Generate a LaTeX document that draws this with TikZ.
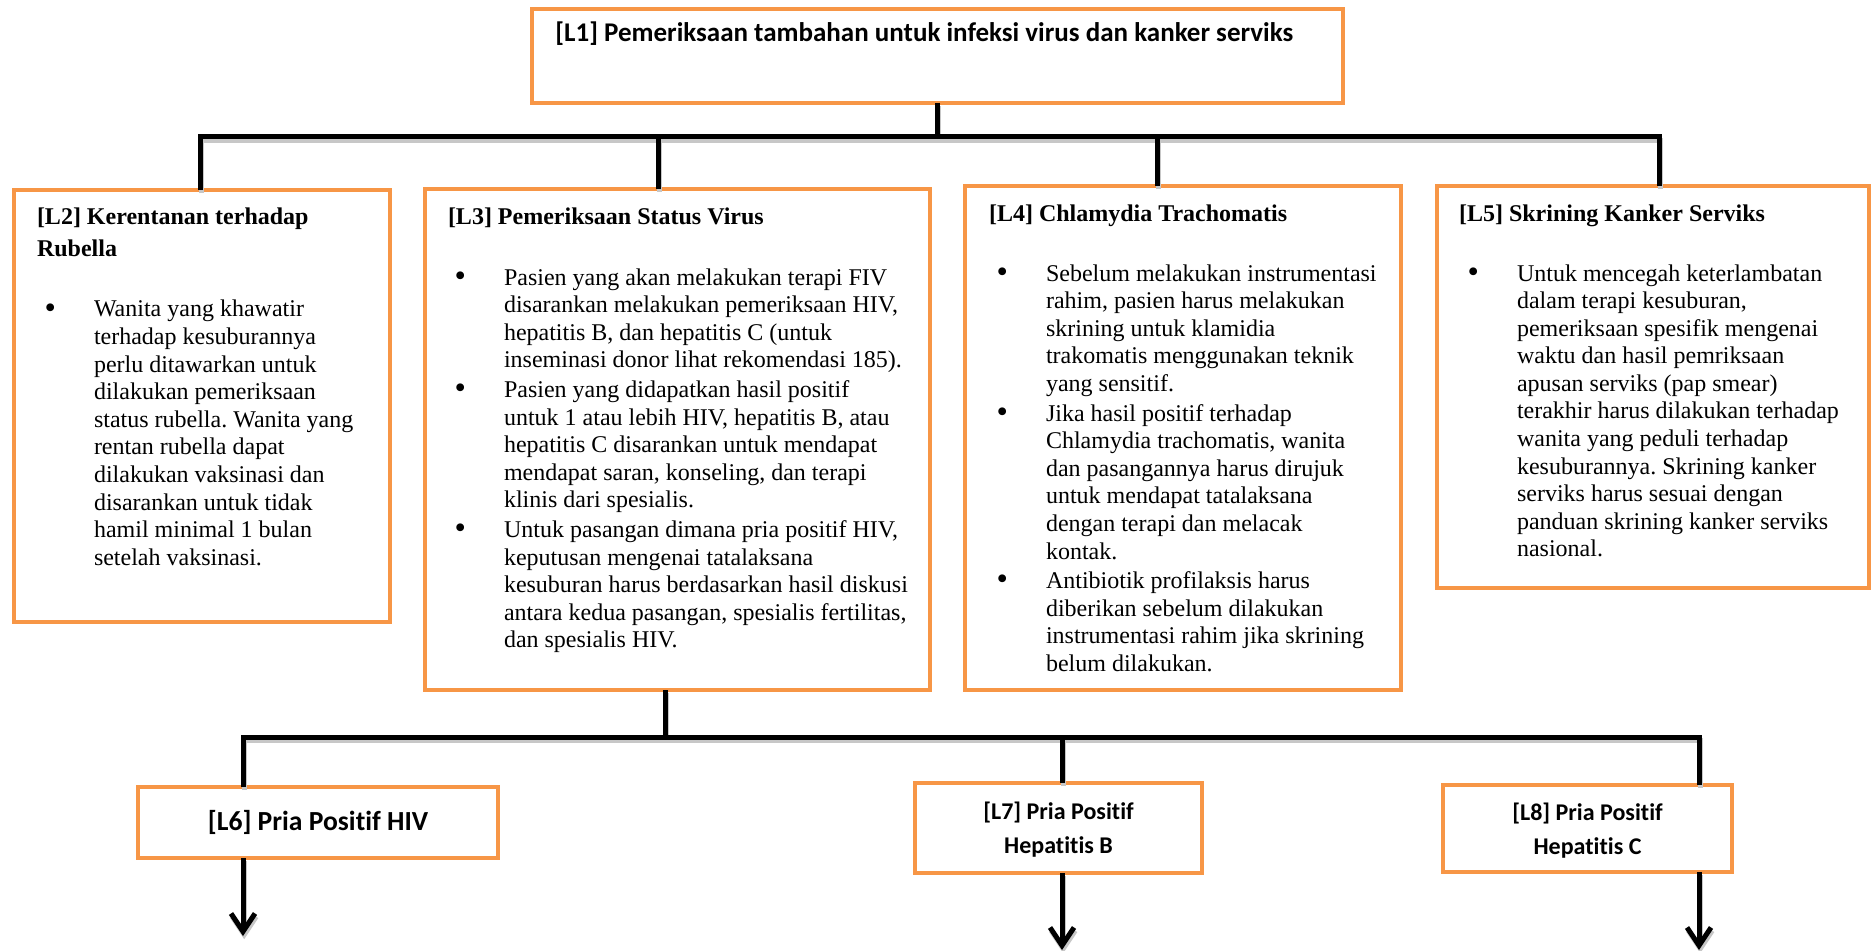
\documentclass[tikz,border=0pt]{standalone}
\usepackage{fontspec}
\setmainfont{Liberation Serif}
\newfontfamily\calibri[Ligatures=NoCommon]{Carlito}
\usetikzlibrary{arrows.meta}
\definecolor{boxorange}{HTML}{F79646}
\newcommand\bul{\llap{\raisebox{-0.6pt}{\scalebox{1.35}{\textbullet}}\hspace{19pt}}}
\frenchspacing
\begin{document}
\begin{tikzpicture}[x=0.5pt,y=-0.5pt,
  box/.style={draw=boxorange, line width=2pt, fill=white, inner sep=0pt, outer sep=0pt, rectangle},
  conn/.style={line width=2.5pt, draw=black, preaction={draw=black!22, line width=2.5pt, transform canvas={shift={(0.6pt,-1.6pt)}}}},
  arr/.style={conn, -{Straight Barb[length=9pt,width=12pt]}},
  body/.style={inner sep=0pt, outer sep=0pt, align=left, anchor=base west, font=\fontsize{12}{13.8}\selectfont},
  head/.style={inner sep=0pt, outer sep=0pt, align=left, anchor=base west, font=\fontsize{12}{16}\selectfont\bfseries},
  cal/.style={font=\calibri\bfseries\fontsize{12}{17}\selectfont, align=center},
]
\useasboundingbox (0,0) rectangle (1873,951);

% boxes
\node[box, minimum width=405.5pt, minimum height=47pt] (l1) at (937.5,56) {};
\node[box, minimum width=188pt, minimum height=216pt] (l2) at (202,406) {};
\node[box, minimum width=252.5pt, minimum height=250.5pt] (l3) at (677.5,439.5) {};
\node[box, minimum width=218pt, minimum height=252pt] (l4) at (1183,438) {};
\node[box, minimum width=216pt, minimum height=201pt] (l5) at (1653,387) {};
\node[box, cal, font=\calibri\bfseries\fontsize{13.8}{16}\selectfont, minimum width=180pt, minimum height=35.5pt] (l6) at (318,822.5) {[L6] Pria Positif HIV};
\node[box, cal, minimum width=143.5pt, minimum height=45pt, text depth=0pt] (l7) at (1058.5,828) {[L7] Pria Positif\\Hepatitis B};
\node[box, cal, minimum width=144.5pt, minimum height=43.5pt, text depth=0pt] (l8) at (1587.5,828.5) {[L8] Pria Positif\\Hepatitis C};

% texts (multi-line nodes: base anchor = baseline of the last line)
\node[inner sep=0pt, anchor=base west, font=\calibri\bfseries\fontsize{13.5}{15}\selectfont] (t1) at (555,42)
  {[L1] Pemeriksaan tambahan untuk infeksi virus dan kanker serviks};

\node[head] (h2) at (37,257) {[L2] Kerentanan terhadap\\Rubella};
\node[body] (x2) at (94,565.4) {\bul Wanita yang khawatir\\
terhadap kesuburannya\\
perlu ditawarkan untuk\\
dilakukan pemeriksaan\\
status rubella. Wanita yang\\
rentan rubella dapat\\
dilakukan vaksinasi dan\\
disarankan untuk tidak\\
hamil minimal 1 bulan\\
setelah vaksinasi.};

\node[head] (h3) at (448,225) {[L3] Pemeriksaan Status Virus};
\node[body] (x3) at (504,647.8) {\bul Pasien yang akan melakukan terapi FIV\\
disarankan melakukan pemeriksaan HIV,\\
hepatitis B, dan hepatitis C (untuk\\
inseminasi donor lihat rekomendasi 185).\\[1pt]
\bul Pasien yang didapatkan hasil positif\\
untuk 1 atau lebih HIV, hepatitis B, atau\\
hepatitis C disarankan untuk mendapat\\
mendapat saran, konseling, dan terapi\\
klinis dari spesialis.\\[1pt]
\bul Untuk pasangan dimana pria positif HIV,\\
keputusan mengenai tatalaksana\\
kesuburan harus berdasarkan hasil diskusi\\
antara kedua pasangan, spesialis fertilitas,\\
dan spesialis HIV.};

\node[head] (h4) at (989,222) {[L4] Chlamydia Trachomatis};
\node[body] (x4) at (1046,671.4) {\bul Sebelum melakukan instrumentasi\\
rahim, pasien harus melakukan\\
skrining untuk klamidia\\
trakomatis menggunakan teknik\\
yang sensitif.\\[1pt]
\bul Jika hasil positif terhadap\\
Chlamydia trachomatis, wanita\\
dan pasangannya harus dirujuk\\
untuk mendapat tatalaksana\\
dengan terapi dan melacak\\
kontak.\\[1pt]
\bul Antibiotik profilaksis harus\\
diberikan sebelum dilakukan\\
instrumentasi rahim jika skrining\\
belum dilakukan.};

\node[head] (h5) at (1459,222) {[L5] Skrining Kanker Serviks};
\node[body] (x5) at (1517,557) {\bul Untuk mencegah keterlambatan\\
dalam terapi kesuburan,\\
pemeriksaan spesifik mengenai\\
waktu dan hasil pemriksaan\\
apusan serviks (pap smear)\\
terakhir harus dilakukan terhadap\\
wanita yang peduli terhadap\\
kesuburannya. Skrining kanker\\
serviks harus sesuai dengan\\
panduan skrining kanker serviks\\
nasional.};

% junction coordinates
\coordinate (j1) at (937.5,137);
\coordinate (b2) at (200,137);
\coordinate (b3) at (658,137);
\coordinate (b4) at (1157,137);
\coordinate (b5) at (1659,137);
\coordinate (j2) at (665,737);
\coordinate (b6) at (243,737);
\coordinate (b7) at (1062,737);
\coordinate (b8) at (1699,737);
\coordinate (e6) at (243,936);
\coordinate (e7) at (1062,950);
\coordinate (e8) at (1699,950);

% connectors
\draw[conn] (l1.south) -- (j1);
\draw[conn] (b2 |- l2.north) -- (b2) -- (b5) -- (b5 |- l5.north);
\draw[conn] (b3) -- (b3 |- l3.north);
\draw[conn] (b4) -- (b4 |- l4.north);

\draw[conn] (l3.south -| j2) -- (j2);
\draw[conn] (b6 |- l6.north) -- (b6) -- (b8) -- (b8 |- l8.north);
\draw[conn] (b7) -- (b7 |- l7.north);

\draw[arr] (b6 |- l6.south) -- (e6);
\draw[arr] (b7 |- l7.south) -- (e7);
\draw[arr] (b8 |- l8.south) -- (e8);
\end{tikzpicture}
\end{document}
